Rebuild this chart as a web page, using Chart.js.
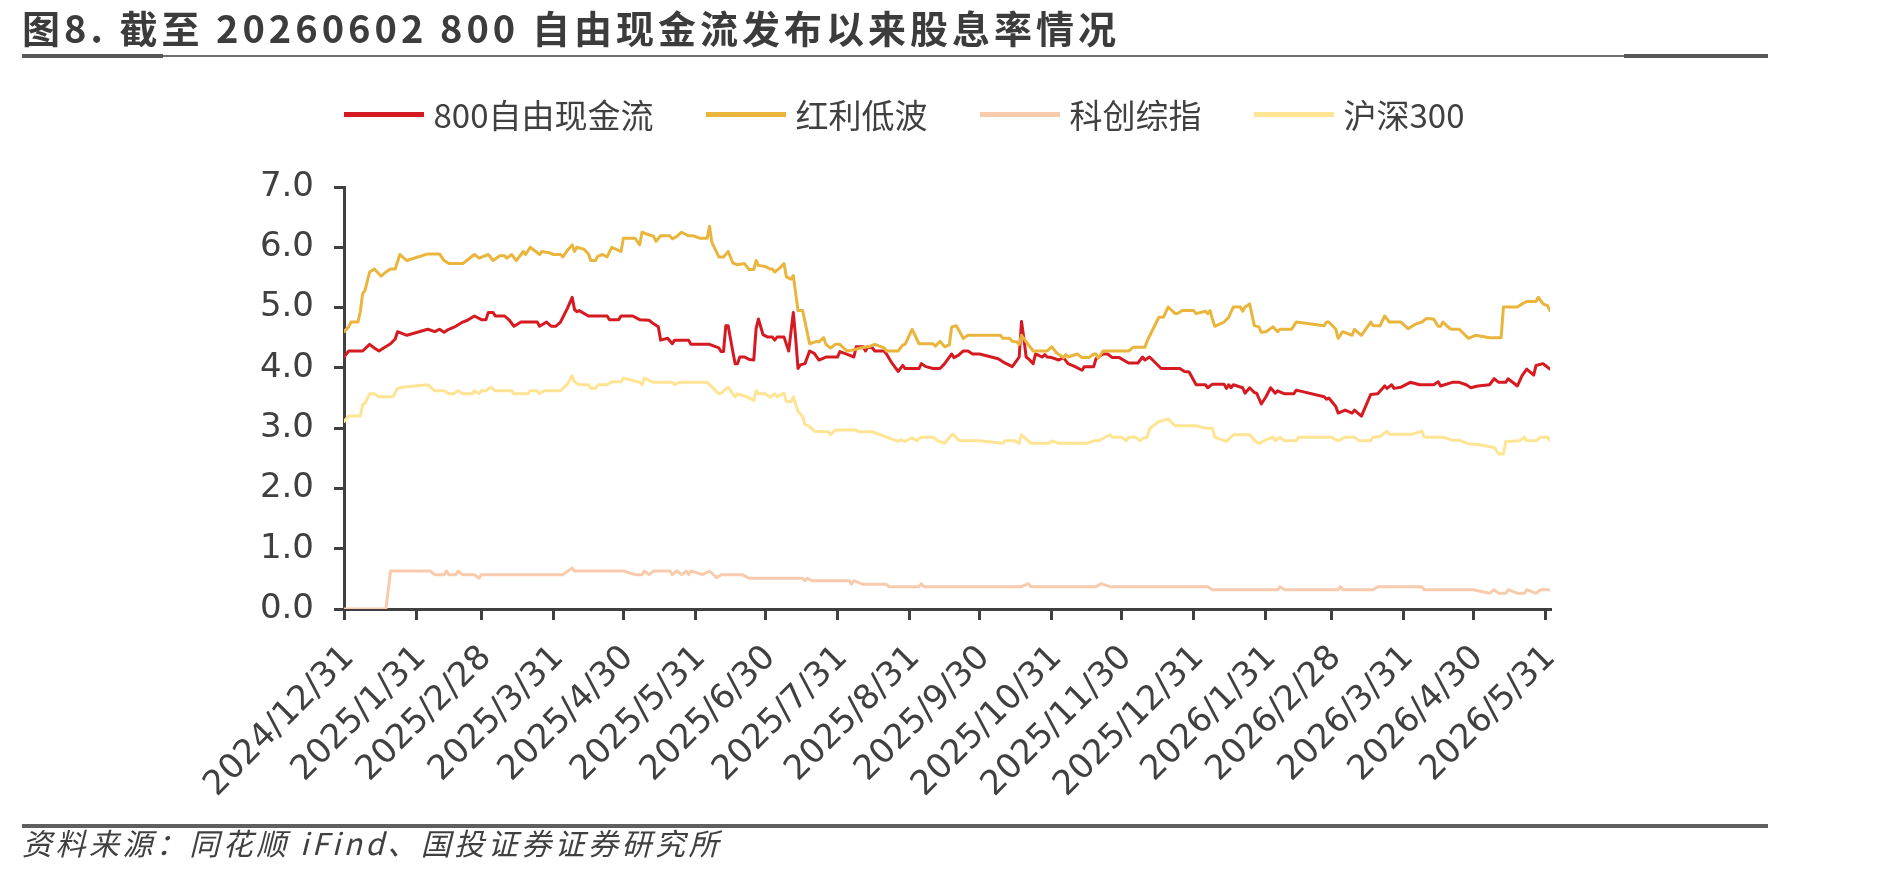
<!DOCTYPE html>
<html><head><meta charset="utf-8">
<script src="https://cdn.jsdelivr.net/npm/chart.js@4.4.1/dist/chart.umd.min.js"></script>
<style>
html,body{margin:0;padding:0;background:#fff;}
body{width:1889px;height:875px;position:relative;overflow:hidden;font-family:"Noto Sans CJK SC",sans-serif;color:#404040;}
#c{position:absolute;left:0;top:0;width:1889px;height:875px;}
#title{position:absolute;left:22px;top:5px;font-size:38px;font-weight:700;line-height:44px;white-space:nowrap;color:#3c3c3c;}
.rule{position:absolute;}
#legend{position:absolute;left:258px;width:1292px;top:93px;height:42px;display:flex;justify-content:center;align-items:center;gap:52px;font-size:33px;line-height:42px;}
.item{display:flex;align-items:center;white-space:nowrap;}
.swatch{display:inline-block;width:80px;height:5px;margin-right:10px;}
#footer{position:absolute;left:22px;top:824px;font-size:30px;font-style:italic;line-height:36px;white-space:nowrap;color:#404040;}
</style></head><body>
<canvas id="c" width="1889" height="875"></canvas>
<div id="title">图8. 截至 20260602 800 自由现金流发布以来股息率情况</div>
<div class="rule" style="left:22px;top:54px;width:141px;height:4px;background:#595959"></div>
<div class="rule" style="left:163px;top:55px;width:1461px;height:2px;background:#6e6e6e"></div>
<div class="rule" style="left:1624px;top:54px;width:144px;height:4px;background:#595959"></div>
<div id="legend"></div>
<div class="rule" style="left:22px;top:824px;width:1746px;height:4px;background:#5f5f5f"></div>
<div id="footer">资料来源：同花顺 iFind、国投证券证券研究所</div>
<script>
// ---- data (x = calendar days after 2024/12/31, y = dividend yield %) ----
const startDate = '2024-12-31';
const endDay = 518; // 2026/06/02
const xLabels = ['2024/12/31','2025/1/31','2025/2/28','2025/3/31','2025/4/30','2025/5/31','2025/6/30','2025/7/31','2025/8/31','2025/9/30','2025/10/31','2025/11/30','2025/12/31','2026/1/31','2026/2/28','2026/3/31','2026/4/30','2026/5/31'];
const seriesNames = ['800自由现金流','红利低波','科创综指','沪深300'];
const seriesColors = ['#D51A21','#E9B53C','#F8CBAD','#FFE494'];

const fcf800 = [[0,4.18],[2,4.28],[8,4.28],[11,4.39],[13,4.33],[15,4.28],[17,4.33],[20,4.40],[22,4.48],[23,4.60],[27,4.54],[36,4.64],[39,4.60],[41,4.64],[43,4.59],[45,4.64],[48,4.69],[51,4.76],[53,4.79],[56,4.86],[59,4.80],[61,4.80],[62,4.92],[64,4.92],[65,4.86],[69,4.86],[71,4.79],[73,4.69],[76,4.76],[83,4.76],[84,4.69],[87,4.76],[89,4.69],[91,4.69],[93,4.76],[96,4.99],[98,5.17],[99,4.97],[100,4.93],[101,4.95],[105,4.86],[113,4.86],[114,4.80],[118,4.80],[119,4.86],[124,4.86],[127,4.80],[131,4.79],[133,4.73],[135,4.68],[136,4.46],[139,4.49],[141,4.40],[142,4.46],[148,4.46],[149,4.39],[157,4.39],[161,4.33],[162,4.27],[163,4.27],[164,4.70],[165,4.70],[167,4.27],[168,4.07],[169,4.07],[170,4.18],[172,4.18],[174,4.14],[176,4.13],[177,4.65],[178,4.81],[180,4.55],[182,4.51],[184,4.51],[185,4.46],[186,4.51],[189,4.51],[191,4.28],[192,4.60],[193,4.92],[194,4.49],[195,3.99],[196,4.05],[198,4.07],[200,4.28],[202,4.24],[204,4.13],[207,4.18],[212,4.18],[213,4.27],[215,4.24],[217,4.21],[219,4.18],[220,4.35],[223,4.35],[224,4.28],[225,4.35],[227,4.33],[228,4.28],[232,4.28],[233,4.23],[235,4.10],[238,3.94],[240,4.04],[241,3.99],[247,3.99],[248,4.07],[250,4.02],[253,3.99],[256,3.99],[258,4.07],[261,4.23],[262,4.17],[264,4.21],[266,4.28],[268,4.28],[270,4.23],[273,4.23],[281,4.15],[283,4.10],[287,4.02],[288,4.07],[290,4.18],[291,4.77],[292,4.49],[293,4.18],[294,4.15],[296,4.07],[297,4.23],[300,4.18],[301,4.22],[302,4.18],[304,4.17],[307,4.13],[309,4.17],[311,4.07],[314,4.02],[317,3.96],[318,4.02],[322,4.02],[323,4.15],[326,4.23],[328,4.23],[330,4.17],[333,4.17],[337,4.08],[341,4.08],[343,4.18],[344,4.13],[346,4.18],[351,3.99],[359,3.99],[361,3.94],[363,3.93],[366,3.72],[370,3.72],[371,3.67],[373,3.73],[378,3.73],[379,3.66],[380,3.72],[381,3.67],[382,3.72],[386,3.67],[387,3.58],[389,3.67],[391,3.59],[392,3.58],[394,3.40],[396,3.52],[398,3.67],[400,3.58],[401,3.62],[404,3.57],[408,3.57],[409,3.63],[421,3.52],[422,3.48],[423,3.50],[426,3.36],[427,3.25],[430,3.30],[433,3.25],[434,3.30],[437,3.20],[441,3.56],[444,3.57],[447,3.70],[448,3.66],[450,3.72],[451,3.66],[454,3.68],[458,3.76],[462,3.72],[468,3.72],[470,3.77],[471,3.70],[476,3.76],[479,3.76],[482,3.72],[484,3.67],[487,3.70],[492,3.72],[494,3.82],[496,3.76],[499,3.76],[500,3.82],[504,3.70],[506,3.87],[508,3.98],[511,3.88],[512,4.04],[515,4.07],[516,4.04],[518,3.98]];

const dividendLowVol = [[0,4.60],[2,4.68],[3,4.76],[6,4.76],[7,4.93],[8,5.23],[9,5.28],[11,5.59],[13,5.64],[16,5.52],[18,5.59],[20,5.64],[22,5.64],[24,5.88],[27,5.78],[36,5.89],[41,5.89],[43,5.78],[45,5.73],[51,5.73],[53,5.79],[56,5.88],[58,5.82],[62,5.88],[64,5.78],[67,5.86],[69,5.86],[70,5.82],[72,5.88],[74,5.78],[77,5.93],[78,5.88],[80,6.00],[84,5.88],[85,5.93],[88,5.91],[90,5.88],[93,5.88],[94,5.84],[96,5.95],[98,6.04],[99,5.93],[100,6.00],[103,5.97],[105,5.89],[106,5.78],[108,5.78],[109,5.85],[111,5.88],[113,5.84],[115,6.00],[119,5.93],[120,6.15],[125,6.15],[127,6.04],[128,6.25],[130,6.22],[133,6.18],[134,6.10],[136,6.19],[140,6.19],[141,6.14],[143,6.18],[145,6.25],[148,6.19],[150,6.19],[153,6.15],[156,6.15],[157,6.35],[158,6.08],[161,5.84],[163,5.84],[165,5.93],[167,5.74],[169,5.71],[172,5.73],[174,5.63],[176,5.63],[177,5.78],[178,5.70],[181,5.68],[183,5.64],[184,5.64],[185,5.59],[187,5.65],[189,5.73],[190,5.51],[192,5.47],[193,5.53],[195,4.95],[197,4.95],[200,4.40],[203,4.44],[204,4.43],[206,4.50],[207,4.39],[209,4.33],[211,4.39],[213,4.39],[214,4.35],[216,4.28],[218,4.29],[222,4.33],[226,4.36],[228,4.39],[232,4.33],[233,4.28],[238,4.28],[240,4.38],[241,4.39],[244,4.64],[247,4.40],[253,4.40],[254,4.36],[256,4.44],[258,4.35],[260,4.38],[261,4.68],[263,4.70],[266,4.49],[268,4.54],[282,4.54],[283,4.49],[286,4.49],[287,4.44],[289,4.43],[290,4.39],[291,4.54],[294,4.38],[296,4.28],[302,4.28],[304,4.35],[306,4.25],[309,4.17],[310,4.22],[311,4.18],[315,4.23],[317,4.17],[320,4.17],[322,4.23],[323,4.23],[324,4.16],[326,4.28],[337,4.28],[339,4.34],[344,4.34],[345,4.45],[350,4.84],[352,4.84],[354,5.01],[357,4.90],[358,4.90],[360,4.95],[365,4.95],[366,4.90],[370,4.94],[371,4.90],[372,4.95],[373,4.81],[374,4.69],[378,4.76],[380,4.84],[382,5.01],[385,5.01],[386,4.94],[387,5.01],[389,5.06],[391,4.70],[393,4.68],[394,4.59],[396,4.60],[399,4.68],[401,4.60],[402,4.64],[407,4.64],[408,4.70],[409,4.76],[421,4.70],[422,4.76],[423,4.76],[426,4.64],[427,4.49],[429,4.60],[431,4.57],[433,4.54],[434,4.64],[437,4.54],[441,4.76],[442,4.70],[445,4.70],[447,4.86],[449,4.76],[454,4.76],[457,4.65],[460,4.72],[463,4.76],[465,4.82],[468,4.81],[470,4.69],[471,4.69],[472,4.76],[475,4.65],[476,4.64],[479,4.64],[483,4.49],[486,4.54],[492,4.50],[497,4.50],[498,5.01],[504,5.01],[506,5.06],[508,5.10],[512,5.10],[513,5.17],[515,5.06],[517,5.03],[518,4.95]];

const starComposite = [[0,0],[18,0],[20,0.63],[37,0.63],[39,0.57],[43,0.57],[44,0.63],[45,0.57],[48,0.57],[49,0.63],[51,0.57],[56,0.57],[58,0.51],[59,0.57],[94,0.57],[98,0.68],[99,0.63],[120,0.63],[125,0.57],[128,0.57],[129,0.63],[131,0.57],[133,0.63],[140,0.63],[141,0.57],[143,0.63],[145,0.57],[147,0.63],[148,0.57],[149,0.63],[154,0.57],[157,0.63],[160,0.52],[162,0.57],[171,0.57],[174,0.51],[197,0.51],[198,0.47],[199,0.51],[201,0.47],[217,0.47],[218,0.41],[219,0.47],[223,0.41],[233,0.41],[234,0.37],[247,0.37],[248,0.42],[249,0.37],[291,0.37],[294,0.42],[295,0.37],[323,0.37],[325,0.42],[329,0.37],[371,0.37],[373,0.32],[401,0.32],[402,0.37],[404,0.32],[427,0.32],[428,0.37],[429,0.32],[442,0.32],[444,0.37],[463,0.37],[464,0.32],[485,0.32],[492,0.26],[494,0.32],[496,0.26],[499,0.26],[500,0.32],[504,0.26],[507,0.26],[508,0.32],[512,0.26],[514,0.32],[518,0.32]];

const csi300 = [[0,3.11],[2,3.20],[7,3.20],[8,3.39],[9,3.41],[11,3.57],[13,3.57],[15,3.52],[21,3.52],[23,3.66],[25,3.68],[36,3.72],[39,3.62],[43,3.62],[45,3.57],[47,3.57],[49,3.62],[51,3.57],[55,3.57],[56,3.62],[58,3.57],[59,3.62],[61,3.62],[63,3.68],[65,3.62],[72,3.62],[73,3.57],[79,3.57],[80,3.62],[83,3.62],[84,3.57],[86,3.62],[93,3.62],[96,3.73],[98,3.87],[99,3.77],[101,3.72],[105,3.72],[106,3.66],[108,3.66],[109,3.72],[113,3.72],[115,3.77],[119,3.77],[120,3.83],[123,3.80],[127,3.76],[128,3.72],[129,3.83],[133,3.76],[141,3.76],[142,3.72],[144,3.76],[156,3.76],[161,3.57],[162,3.58],[165,3.68],[168,3.52],[169,3.57],[173,3.52],[176,3.46],[177,3.62],[178,3.57],[181,3.57],[183,3.51],[185,3.57],[186,3.52],[189,3.58],[190,3.44],[192,3.44],[193,3.52],[195,3.28],[197,3.19],[198,3.06],[200,3.03],[202,2.95],[208,2.94],[209,2.89],[211,2.97],[220,2.97],[221,2.94],[227,2.94],[233,2.85],[238,2.78],[239,2.81],[241,2.78],[244,2.84],[246,2.79],[248,2.85],[253,2.85],[255,2.79],[258,2.75],[261,2.89],[262,2.89],[264,2.80],[266,2.79],[273,2.79],[283,2.75],[284,2.79],[288,2.79],[290,2.75],[291,2.89],[295,2.75],[303,2.75],[304,2.79],[307,2.75],[319,2.75],[322,2.79],[324,2.79],[329,2.89],[330,2.85],[334,2.85],[336,2.79],[337,2.85],[340,2.85],[342,2.79],[343,2.83],[345,2.85],[346,2.99],[350,3.11],[354,3.15],[357,3.04],[366,3.04],[370,3.00],[373,3.00],[374,2.85],[379,2.78],[382,2.89],[389,2.89],[391,2.80],[393,2.74],[395,2.79],[399,2.85],[400,2.79],[402,2.85],[404,2.79],[409,2.79],[410,2.85],[424,2.85],[427,2.79],[430,2.85],[434,2.85],[436,2.79],[441,2.79],[442,2.85],[445,2.86],[448,2.95],[449,2.90],[459,2.90],[463,2.95],[464,2.85],[472,2.85],[476,2.80],[479,2.80],[483,2.74],[487,2.73],[494,2.68],[496,2.57],[498,2.57],[499,2.78],[505,2.79],[507,2.85],[508,2.79],[512,2.79],[514,2.85],[517,2.85],[518,2.79]];

const yTicks = [0,1,2,3,4,5,6,7];

// ---- helpers ----
const base = Date.UTC(2024, 11, 31);
function dayOf(label){ const [y,m,d] = label.split('/').map(Number); return Math.round((Date.UTC(y,m-1,d)-base)/86400000); }
const tickDays = xLabels.map(dayOf);
const labelByDay = {}; tickDays.forEach((d,i)=>labelByDay[d]=xLabels[i]);

const allSeries = [fcf800, dividendLowVol, starComposite, csi300];

// legend (HTML)
const legend = document.getElementById('legend');
seriesNames.forEach((n,i)=>{
  const it = document.createElement('div'); it.className='item';
  const sw = document.createElement('span'); sw.className='swatch'; sw.style.background=seriesColors[i];
  const tx = document.createElement('span'); tx.textContent = n;
  it.appendChild(sw); it.appendChild(tx); legend.appendChild(it);
});

function fitWidth(id, target){
  const el = document.getElementById(id);
  const w = el.getBoundingClientRect().width;
  const n = [...el.textContent].length;
  el.style.letterSpacing = ((target - w) / n).toFixed(2) + 'px';
}
fitWidth('title', 1098);
fitWidth('footer', 700);

const axisColor = '#404040';
const tickFont = {family:'DejaVu Sans', size:34};

new Chart(document.getElementById('c'), {
  type:'line',
  data:{
    datasets: allSeries.map((s,i)=>({
      label: seriesNames[i],
      data: s.map(([d,v])=>({x:d, y:v})),
      borderColor: seriesColors[i],
      backgroundColor: seriesColors[i],
      borderWidth: 3,
      pointRadius: 0,
      tension: 0,
      borderJoinStyle: 'round',
      borderCapStyle: 'round',
      order: 3 - i,
      fill: false
    }))
  },
  options:{
    responsive:false,
    devicePixelRatio:1,
    animation:false,
    layout:{padding:{left:258, right:339, top:187, bottom:66}},
    plugins:{legend:{display:false}, tooltip:{enabled:false}, title:{display:false}},
    scales:{
      x:{
        type:'linear', min:0, max:endDay,
        afterBuildTicks: s => { s.ticks = tickDays.map(v=>({value:v})); },
        afterFit: s => { s.height = 200; },
        ticks:{autoSkip:false, minRotation:45, maxRotation:45, padding:18, labelOffset:5, color:axisColor, font:tickFont,
          callback: v => labelByDay[v] ?? ''},
        grid:{display:true, drawOnChartArea:false, drawTicks:true, tickLength:11, color:axisColor, lineWidth:3},
        border:{display:true, color:axisColor, width:3}
      },
      y:{
        min:0, max:7,
        afterBuildTicks: s => { s.ticks = yTicks.map(v=>({value:v})); },
        afterFit: s => { s.width = 86; },
        ticks:{padding:20, color:axisColor, font:tickFont, callback: v => Number(v).toFixed(1)},
        grid:{display:true, drawOnChartArea:false, drawTicks:true, tickLength:10, color:axisColor, lineWidth:3},
        border:{display:true, color:axisColor, width:3}
      }
    }
  }
});
</script>
</body></html>
